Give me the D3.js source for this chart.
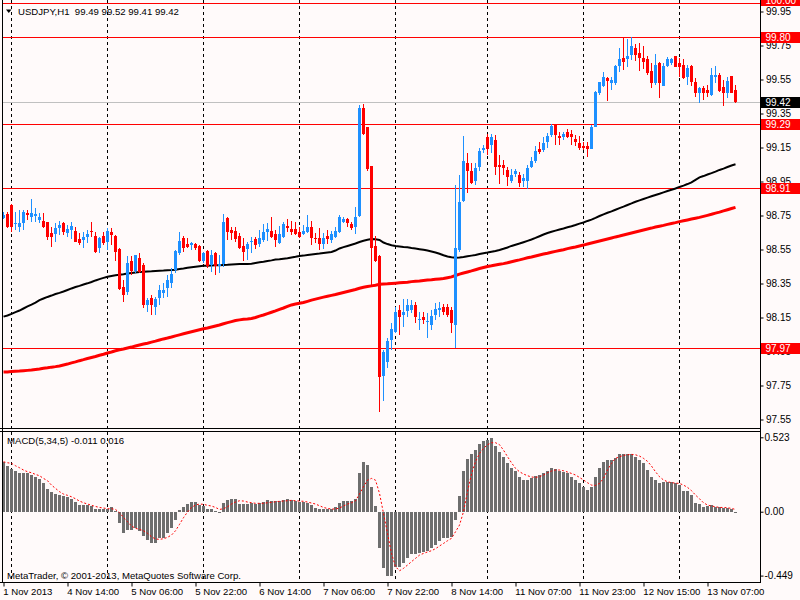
<!DOCTYPE html>
<html><head><meta charset="utf-8">
<script src="https://cdn.jsdelivr.net/npm/d3@7"></script>
<style>
body{margin:0;background:#fffafa;overflow:hidden}
text{font-family:"Liberation Sans",Arial,sans-serif;font-size:10px;fill:#000}
</style>
</head><body>
<svg id="c" width="800" height="600"></svg>
<script>
// ---------- DATA ----------
const headerText = "USDJPY,H1  99.49 99.52 99.41 99.42";
const macdTitle = "MACD(5,34,5) -0.011 0.016";
const copyright = "MetaTrader, \u00a9 2001-2013, MetaQuotes Software Corp.";

const opens=[98.734,98.759,98.812,98.698,98.684,98.708,98.763,98.739,98.747,98.724,
98.720,98.714,98.645,98.639,98.675,98.704,98.649,98.665,98.661,98.614,
98.606,98.626,98.659,98.630,98.557,98.630,98.596,98.655,98.630,98.551,
98.328,98.302,98.483,98.424,98.502,98.459,98.223,98.263,98.210,98.263,
98.292,98.322,98.355,98.429,98.527,98.616,98.580,98.579,98.583,98.571,
98.485,98.541,98.459,98.528,98.455,98.463,98.737,98.665,98.659,98.630,
98.573,98.553,98.596,98.612,98.583,98.606,98.655,98.661,98.639,98.586,
98.626,98.688,98.671,98.671,98.655,98.639,98.651,98.681,98.620,98.616,
98.583,98.630,98.606,98.626,98.651,98.714,98.730,98.700,98.684,98.749,
99.381,99.273,99.041,98.571,98.512,97.806,97.890,98.018,98.067,98.194,
98.165,98.190,98.194,98.224,98.135,98.155,98.122,98.106,98.165,98.194,
98.210,98.210,98.194,98.106,98.547,98.835,99.061,99.014,98.955,99.037,
99.135,99.210,99.165,99.194,99.047,99.047,99.018,98.955,98.994,98.988,
98.955,98.955,99.033,99.073,99.141,99.135,99.184,99.224,99.282,99.218,
99.214,99.239,99.229,99.200,99.174,99.159,99.159,99.141,99.273,99.469,
99.512,99.557,99.527,99.531,99.629,99.675,99.669,99.694,99.733,99.708,
99.675,99.669,99.602,99.531,99.645,99.514,99.629,99.645,99.688,99.649,
99.635,99.567,99.629,99.533,99.469,99.498,99.488,99.459,99.567,99.576,
99.504,99.473,99.571,99.49];
const highs=[98.773,98.773,98.818,98.773,98.783,98.783,98.783,98.847,98.792,98.763,
98.763,98.714,98.684,98.704,98.718,98.714,98.694,98.710,98.684,98.645,
98.655,98.665,98.714,98.655,98.626,98.655,98.675,98.675,98.635,98.557,
98.371,98.512,98.512,98.518,98.528,98.470,98.263,98.282,98.273,98.341,
98.351,98.400,98.439,98.547,98.655,98.630,98.616,98.596,98.591,98.577,
98.538,98.547,98.547,98.538,98.518,98.759,98.743,98.684,98.684,98.649,
98.616,98.596,98.626,98.626,98.665,98.698,98.704,98.743,98.665,98.688,
98.714,98.730,98.718,98.714,98.684,98.694,98.753,98.718,98.645,98.675,
98.645,98.665,98.659,98.684,98.753,98.743,98.734,98.714,98.802,99.400,
99.404,99.273,99.041,98.632,98.518,97.959,98.027,98.116,98.210,98.224,
98.257,98.257,98.253,98.243,98.184,98.184,98.175,98.194,98.233,98.243,
98.229,98.229,98.214,98.929,98.988,99.218,99.116,99.057,99.061,99.145,
99.165,99.229,99.229,99.224,99.106,99.076,99.033,99.022,99.022,99.008,
98.994,99.047,99.096,99.161,99.184,99.214,99.233,99.286,99.286,99.243,
99.243,99.259,99.253,99.224,99.218,99.184,99.184,99.282,99.482,99.537,
99.596,99.567,99.567,99.635,99.733,99.792,99.786,99.802,99.759,99.763,
99.747,99.688,99.645,99.700,99.655,99.645,99.680,99.675,99.688,99.675,
99.669,99.635,99.635,99.557,99.508,99.512,99.518,99.616,99.629,99.590,
99.547,99.567,99.571,99.52];
const lows=[98.728,98.675,98.651,98.665,98.651,98.665,98.724,98.714,98.712,98.704,
98.679,98.606,98.567,98.596,98.635,98.635,98.626,98.610,98.596,98.577,
98.557,98.586,98.626,98.528,98.528,98.577,98.547,98.577,98.484,98.312,
98.243,98.283,98.400,98.410,98.410,98.204,98.184,98.165,98.165,98.223,
98.263,98.273,98.322,98.410,98.518,98.537,98.557,98.547,98.547,98.479,
98.469,98.440,98.420,98.400,98.410,98.449,98.606,98.606,98.596,98.553,
98.484,98.488,98.528,98.553,98.567,98.596,98.602,98.616,98.567,98.583,
98.620,98.655,98.635,98.635,98.616,98.635,98.645,98.577,98.586,98.547,
98.553,98.581,98.586,98.616,98.645,98.704,98.684,98.665,98.639,98.743,
99.224,99.012,98.341,98.479,97.596,97.661,97.851,97.959,98.057,98.047,
98.096,98.151,98.175,98.120,98.076,98.112,98.027,98.076,98.135,98.155,
98.165,98.151,98.057,97.969,98.537,98.831,98.880,98.935,98.929,99.014,
99.116,99.106,99.116,98.988,98.935,98.988,98.924,98.939,98.978,98.920,
98.920,98.904,99.027,99.057,99.112,99.125,99.145,99.214,99.165,99.165,
99.194,99.204,99.165,99.159,99.135,99.135,99.096,99.139,99.269,99.459,
99.504,99.425,99.488,99.518,99.596,99.606,99.626,99.665,99.661,99.602,
99.610,99.576,99.498,99.518,99.443,99.512,99.626,99.635,99.622,99.567,
99.551,99.518,99.512,99.449,99.414,99.429,99.449,99.453,99.527,99.478,
99.394,99.439,99.469,99.41];
const closes=[98.753,98.684,98.684,98.704,98.704,98.773,98.751,98.763,98.757,98.739,
98.684,98.626,98.626,98.675,98.694,98.655,98.673,98.688,98.596,98.586,
98.626,98.641,98.651,98.537,98.616,98.586,98.661,98.635,98.537,98.316,
98.283,98.469,98.424,98.518,98.420,98.223,98.253,98.223,98.257,98.312,
98.312,98.371,98.406,98.541,98.600,98.557,98.567,98.587,98.557,98.483,
98.528,98.453,98.518,98.453,98.463,98.714,98.655,98.649,98.612,98.557,
98.537,98.583,98.602,98.577,98.616,98.655,98.671,98.626,98.606,98.641,
98.700,98.679,98.655,98.639,98.626,98.659,98.684,98.616,98.610,98.583,
98.620,98.612,98.641,98.659,98.739,98.730,98.708,98.679,98.739,99.384,
99.228,99.024,98.557,98.484,97.798,97.949,98.014,98.080,98.180,98.155,
98.184,98.224,98.224,98.151,98.143,98.135,98.129,98.159,98.198,98.204,
98.184,98.165,98.120,98.557,98.831,99.071,99.014,98.943,99.027,99.129,
99.145,99.139,99.214,99.037,99.037,99.027,98.978,98.988,99.012,98.943,
98.973,99.031,99.071,99.129,99.125,99.174,99.218,99.276,99.224,99.208,
99.229,99.210,99.214,99.184,99.145,99.145,99.139,99.269,99.475,99.533,
99.567,99.543,99.547,99.629,99.671,99.655,99.688,99.747,99.694,99.675,
99.655,99.586,99.531,99.635,99.531,99.629,99.669,99.671,99.626,99.626,
99.557,99.616,99.537,99.469,99.498,99.469,99.469,99.576,99.576,99.484,
99.473,99.543,99.473,99.42];

const maBlack=[98.155,98.162,98.171,98.182,98.191,98.203,98.215,98.226,98.238,98.252,
98.262,98.271,98.279,98.288,98.295,98.303,98.312,98.321,98.329,98.336,
98.344,98.351,98.359,98.368,98.376,98.383,98.390,98.394,98.398,98.401,
98.404,98.409,98.412,98.415,98.418,98.419,98.421,98.422,98.424,98.425,
98.426,98.428,98.429,98.431,98.435,98.438,98.442,98.446,98.449,98.452,
98.454,98.455,98.456,98.457,98.458,98.459,98.460,98.462,98.463,98.464,
98.464,98.465,98.466,98.471,98.475,98.478,98.482,98.486,98.491,98.493,
98.496,98.499,98.503,98.507,98.512,98.514,98.518,98.521,98.524,98.526,
98.529,98.532,98.535,98.544,98.556,98.564,98.571,98.578,98.585,98.594,
98.601,98.607,98.612,98.610,98.606,98.591,98.582,98.575,98.571,98.568,
98.565,98.563,98.559,98.556,98.552,98.548,98.544,98.538,98.532,98.525,
98.516,98.509,98.505,98.502,98.503,98.506,98.510,98.514,98.518,98.524,
98.528,98.532,98.537,98.541,98.547,98.554,98.562,98.571,98.578,98.585,
98.593,98.601,98.609,98.618,98.628,98.638,98.647,98.654,98.661,98.668,
98.674,98.681,98.687,98.694,98.702,98.709,98.718,98.726,98.736,98.747,
98.757,98.766,98.774,98.784,98.793,98.802,98.812,98.821,98.831,98.839,
98.847,98.855,98.863,98.871,98.878,98.886,98.894,98.901,98.909,98.918,
98.926,98.935,98.945,98.960,98.974,98.982,98.991,98.999,99.008,99.018,
99.026,99.035,99.044,99.051];
const maRed=[97.829,97.830,97.832,97.834,97.835,97.837,97.839,97.841,97.844,97.847,
97.851,97.854,97.858,97.861,97.865,97.871,97.876,97.883,97.889,97.896,
97.902,97.909,97.915,97.921,97.928,97.934,97.941,97.947,97.954,97.960,
97.965,97.971,97.976,97.982,97.988,97.994,97.999,98.005,98.011,98.018,
98.024,98.029,98.035,98.042,98.048,98.054,98.060,98.066,98.072,98.078,
98.084,98.088,98.094,98.100,98.106,98.113,98.120,98.126,98.132,98.136,
98.140,98.141,98.144,98.150,98.158,98.165,98.173,98.181,98.189,98.198,
98.206,98.215,98.224,98.229,98.234,98.238,98.245,98.252,98.258,98.264,
98.270,98.275,98.280,98.285,98.291,98.297,98.303,98.309,98.315,98.322,
98.328,98.332,98.336,98.340,98.345,98.347,98.348,98.350,98.352,98.354,
98.356,98.358,98.361,98.363,98.365,98.368,98.370,98.372,98.375,98.377,
98.379,98.384,98.389,98.397,98.405,98.412,98.418,98.424,98.431,98.438,
98.444,98.450,98.454,98.459,98.463,98.467,98.472,98.478,98.484,98.489,
98.495,98.501,98.506,98.512,98.518,98.523,98.528,98.534,98.539,98.544,
98.549,98.555,98.560,98.565,98.571,98.576,98.582,98.588,98.594,98.600,
98.606,98.612,98.618,98.624,98.629,98.635,98.641,98.647,98.653,98.659,
98.665,98.671,98.676,98.682,98.687,98.692,98.698,98.703,98.708,98.714,
98.719,98.724,98.729,98.734,98.739,98.745,98.751,98.757,98.764,98.770,
98.777,98.784,98.791,98.798];

const macdHist=[0.351,0.321,0.302,0.288,0.274,0.269,0.269,0.258,0.246,0.232,
0.204,0.159,0.141,0.124,0.117,0.110,0.101,0.091,0.068,0.047,
0.045,0.045,0.040,0.016,0.019,0.021,0.021,0.030,0.007,-0.082,
-0.148,-0.129,-0.129,-0.117,-0.136,-0.171,-0.199,-0.218,-0.218,-0.187,
-0.187,-0.152,-0.117,-0.059,0.012,0.030,0.054,0.068,0.068,0.047,
0.040,0.021,0.021,0.007,-0.012,0.059,0.082,0.091,0.091,0.054,
0.054,0.054,0.059,0.054,0.063,0.068,0.082,0.073,0.077,0.073,
0.082,0.087,0.082,0.077,0.068,0.070,0.059,0.049,0.028,0.016,
0.016,0.016,0.021,0.030,0.063,0.073,0.077,0.077,0.091,0.274,
0.349,0.328,0.176,0.040,-0.253,-0.398,-0.450,-0.450,-0.387,-0.387,
-0.358,-0.323,-0.297,-0.297,-0.288,-0.281,-0.276,-0.258,-0.234,-0.204,
-0.187,-0.187,-0.180,-0.059,0.110,0.286,0.368,0.403,0.433,0.476,
0.494,0.504,0.515,0.464,0.422,0.387,0.340,0.305,0.288,0.246,
0.223,0.223,0.234,0.251,0.258,0.274,0.288,0.305,0.297,0.286,
0.281,0.269,0.246,0.223,0.199,0.176,0.152,0.176,0.246,0.309,
0.347,0.363,0.363,0.379,0.403,0.403,0.403,0.403,0.387,0.363,
0.340,0.293,0.241,0.223,0.204,0.206,0.206,0.206,0.199,0.187,
0.148,0.148,0.117,0.063,0.052,0.030,0.040,0.047,0.030,0.030,
0.023,0.023,0.016,-0.011];
const macdSignal=[0.351,0.344,0.340,0.323,0.309,0.293,0.281,0.274,0.262,0.253,
0.234,0.218,0.187,0.164,0.141,0.124,0.115,0.105,0.091,0.075,
0.063,0.054,0.045,0.037,0.030,0.026,0.021,0.021,0.016,-0.007,
-0.040,-0.070,-0.101,-0.117,-0.124,-0.134,-0.152,-0.176,-0.192,-0.194,
-0.190,-0.180,-0.164,-0.134,-0.089,-0.042,-0.002,0.030,0.047,0.054,
0.052,0.045,0.040,0.030,0.016,0.021,0.035,0.054,0.068,0.077,
0.075,0.068,0.063,0.059,0.059,0.059,0.063,0.066,0.070,0.073,
0.075,0.077,0.080,0.077,0.075,0.073,0.068,0.061,0.054,0.042,
0.030,0.023,0.019,0.019,0.026,0.040,0.054,0.063,0.077,0.124,
0.176,0.222,0.234,0.222,0.129,-0.012,-0.152,-0.293,-0.386,-0.415,
-0.398,-0.375,-0.351,-0.328,-0.305,-0.293,-0.283,-0.274,-0.260,-0.241,
-0.223,-0.204,-0.187,-0.141,-0.094,0.000,0.141,0.265,0.351,0.410,
0.445,0.471,0.485,0.485,0.471,0.433,0.387,0.344,0.305,0.281,
0.265,0.253,0.244,0.241,0.246,0.258,0.274,0.286,0.293,0.293,
0.288,0.279,0.269,0.258,0.241,0.223,0.204,0.187,0.185,0.199,
0.234,0.293,0.340,0.375,0.386,0.396,0.400,0.403,0.400,0.391,
0.375,0.354,0.321,0.281,0.246,0.223,0.211,0.204,0.201,0.199,
0.187,0.171,0.148,0.117,0.091,0.063,0.047,0.040,0.035,0.030,
0.030,0.028,0.023,0.016];

const timeLabels=["1 Nov 2013","4 Nov 14:00","5 Nov 06:00","5 Nov 22:00","6 Nov 14:00","7 Nov 06:00",
"7 Nov 22:00","8 Nov 14:00","11 Nov 07:00","11 Nov 23:00","12 Nov 15:00","13 Nov 07:00"];
const timeLabelBars=[0,16,32,48,64,80,96,112,128,144,160,176];
const gridBars=[2,26,50,74,98,121,145,169];
const priceTicks=[99.95,99.75,99.55,99.35,99.15,98.95,98.75,98.55,98.35,98.15,97.95,97.75,97.55];
const levelLines=[100.00,99.80,99.29,98.91,97.97];
const bidPrice=99.42;
const macdTicks=[0.523,0.00,-0.449];
const macdTickLabels=["0.523","0.00","-0.449"];

// ---------- CHART ----------
const svg=d3.select("#c");
const n=opens.length;
const idx=d3.range(n);
const x=d3.scaleLinear().domain([0,183]).range([3.5,735.5]);
const y=d3.scaleLinear().domain([97.55,99.95]).range([419.5,11.5]);
const ym=d3.scaleLinear().domain([-0.449,0.523]).range([575.6,437.3]);
const bull="#1e90ff", bear="#ff0000";
const FONT="Liberation Sans, Arial, sans-serif";

svg.append("rect").attr("width",800).attr("height",600).attr("fill","#fffafa");

const defs=svg.append("defs");
defs.append("clipPath").attr("id","pclip").append("rect").attr("x",3).attr("y",0).attr("width",757).attr("height",428);
defs.append("clipPath").attr("id","mclip").append("rect").attr("x",3).attr("y",432).attr("width",757).attr("height",150);

// grid
const g=svg.append("g").attr("shape-rendering","crispEdges");
gridBars.forEach(b=>{
  g.append("line").attr("x1",x(b)).attr("x2",x(b)).attr("y1",0).attr("y2",428)
    .attr("stroke","#000").attr("stroke-dasharray","3,3");
  g.append("line").attr("x1",x(b)).attr("x2",x(b)).attr("y1",432).attr("y2",582)
    .attr("stroke","#000").attr("stroke-dasharray","3,3");
});

// price panel
const pp=svg.append("g").attr("clip-path","url(#pclip)");
pp.selectAll("line.lvl").data(levelLines).join("line").attr("class","lvl")
  .attr("x1",0).attr("x2",760).attr("y1",d=>Math.round(y(d))+0.5).attr("y2",d=>Math.round(y(d))+0.5)
  .attr("stroke","#ff0000").attr("shape-rendering","crispEdges");
pp.append("line").attr("x1",0).attr("x2",760).attr("y1",Math.round(y(bidPrice))+0.5).attr("y2",Math.round(y(bidPrice))+0.5)
  .attr("stroke","#c0c0c0").attr("shape-rendering","crispEdges");

const lineP=arr=>d3.line().x(i=>x(i)).y(i=>y(arr[i]))(idx);
pp.append("path").attr("d",lineP(maRed)).attr("fill","none").attr("stroke","#ff0000").attr("stroke-width",3);
pp.append("path").attr("d",lineP(maBlack)).attr("fill","none").attr("stroke","#000").attr("stroke-width",2);

const cg=pp.append("g").attr("shape-rendering","crispEdges");
cg.selectAll("line.wick").data(idx).join("line").attr("class","wick")
  .attr("x1",i=>x(i)).attr("x2",i=>x(i)).attr("y1",i=>y(highs[i])).attr("y2",i=>y(lows[i]))
  .attr("stroke",i=>closes[i]>=opens[i]?bull:bear);
cg.selectAll("rect.body").data(idx).join("rect").attr("class","body")
  .attr("x",i=>x(i)-1.5).attr("width",3)
  .attr("y",i=>y(Math.max(opens[i],closes[i])))
  .attr("height",i=>Math.max(1,Math.abs(y(opens[i])-y(closes[i]))))
  .attr("fill",i=>closes[i]>=opens[i]?bull:bear);

// macd panel
const mp=svg.append("g").attr("clip-path","url(#mclip)");
mp.selectAll("rect.h").data(idx).join("rect").attr("class","h")
  .attr("x",i=>x(i)-1.5).attr("width",3)
  .attr("y",i=>ym(Math.max(0,macdHist[i])))
  .attr("height",i=>Math.max(1,Math.abs(ym(macdHist[i])-ym(0))))
  .attr("fill","#6e6e6e").attr("shape-rendering","crispEdges");
mp.append("path").attr("d",d3.line().x(i=>x(i)).y(i=>ym(macdSignal[i]))(idx))
  .attr("fill","none").attr("stroke","#ff0000").attr("stroke-width",1).attr("stroke-dasharray","2,2");

// frames
const fr=svg.append("g").attr("stroke","#000").attr("shape-rendering","crispEdges");
fr.append("line").attr("x1",2.5).attr("x2",2.5).attr("y1",0).attr("y2",583);
fr.append("line").attr("x1",0).attr("x2",761).attr("y1",428.5).attr("y2",428.5);
fr.append("line").attr("x1",0).attr("x2",761).attr("y1",431.5).attr("y2",431.5);
fr.append("line").attr("x1",760.5).attr("x2",760.5).attr("y1",0).attr("y2",583);

// price axis
const pa=svg.append("g").attr("transform","translate(760.5,0)")
  .call(d3.axisRight(y).tickValues(priceTicks).tickSize(3).tickPadding(2.5).tickFormat(d3.format(".2f")));
pa.select(".domain").remove();
pa.selectAll("text").style("font-family",FONT).style("font-size","10px").attr("fill","#000");

// macd axis
const ma=svg.append("g").attr("transform","translate(760.5,0)")
  .call(d3.axisRight(ym).tickValues(macdTicks).tickSize(3).tickPadding(1).tickFormat((d,i)=>macdTickLabels[i]));
ma.select(".domain").remove();
ma.selectAll("text").style("font-family",FONT).style("font-size","10px").attr("fill","#000");

// time axis
const ta=svg.append("g").attr("transform","translate(0,582.5)")
  .call(d3.axisBottom(x).tickValues(timeLabelBars).tickSize(4).tickPadding(2).tickFormat((d,i)=>timeLabels[i]));
ta.select(".domain").attr("d","M0,0H761");
ta.selectAll("text").attr("text-anchor","start").attr("dx","-0.7").style("font-family",FONT).style("font-size","9.6px").attr("fill","#000");

// price boxes
const boxes=levelLines.map(v=>({v,fill:"#ff0000"})).concat([{v:bidPrice,fill:"#000"}]);
const bg=svg.append("g");
boxes.forEach(b=>{
  let yy=Math.round(y(b.v));
  if(yy<6) yy-=3; // top-most label sits partly above the window edge
  bg.append("rect").attr("x",761).attr("y",yy-5).attr("width",39).attr("height",11).attr("fill",b.fill).attr("shape-rendering","crispEdges");
  bg.append("text").attr("x",765.5).attr("y",yy+0.5).attr("dominant-baseline","central")
    .style("fill","#fff").text(d3.format(".2f")(b.v));
});

// titles
svg.append("path").attr("d","M6,9.5L11.5,9.5L8.75,13Z").attr("fill","#000");
svg.append("text").attr("x",18).attr("y",11).attr("dominant-baseline","central").attr("xml:space","preserve")
  .style("white-space","pre").style("font-size","9.6px").text(headerText);
svg.append("text").attr("x",7).attr("y",440).attr("dominant-baseline","central").style("font-size","9.6px").text(macdTitle);
svg.append("text").attr("x",7).attr("y",575).attr("dominant-baseline","central").style("font-size","9.6px").text(copyright);
</script>
</body></html>
